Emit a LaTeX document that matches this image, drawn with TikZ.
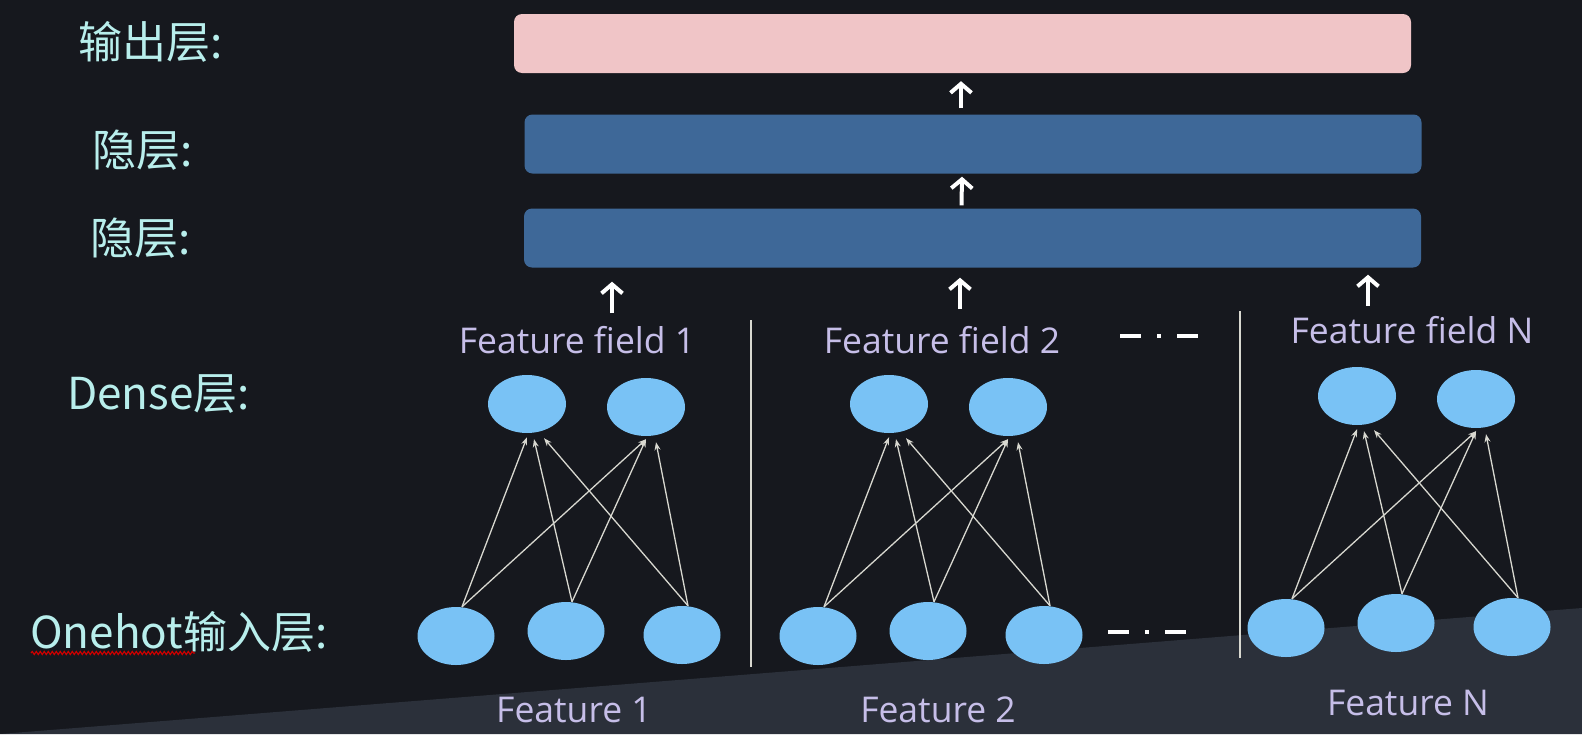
\documentclass[tikz,border=0pt]{standalone}
\usepackage{fontspec}
\setmainfont{Noto Sans CJK SC}
\newfontfamily\latinsans{Open Sans}
\usetikzlibrary{arrows.meta,decorations.pathmorphing,calc,shapes.geometric}
\definecolor{bg}{HTML}{16181E}
\definecolor{wedge}{HTML}{2B303A}
\definecolor{lbl}{HTML}{B8EEEC}
\definecolor{lav}{HTML}{C6BEE8}
\definecolor{cir}{HTML}{79C2F5}
\definecolor{hid}{HTML}{3E6898}
\definecolor{outc}{HTML}{F0C5C7}
\definecolor{thin}{HTML}{D8D8D0}
\begin{document}
\begin{tikzpicture}[x=1pt,y=-1pt,
  layerlbl/.style={text=lbl,font=\fontsize{44}{48}\selectfont,anchor=west,inner sep=0},
  fieldlbl/.style={text=lav,font=\latinsans\fontsize{35.5}{38}\selectfont,inner sep=0},
  band/.style={rounded corners=8,minimum width=897,minimum height=59,inner sep=0},
  neuron/.style={ellipse,fill=cir,minimum width=77,minimum height=58,inner sep=0},
  dneuron/.style={ellipse,fill=cir,minimum width=78,minimum height=58,inner sep=0},
  conn/.style={draw=thin,line width=1.3,-{Stealth[length=8,width=6]}},
  bigarrow/.style={draw=white,line width=4,-{Straight Barb[length=9,width=21,line width=4]}},
  sep/.style={draw=thin,line width=1.5},
  dots/.style={draw=white,line width=4}
]
\useasboundingbox (0,0) rectangle (1582,734);
\fill[bg] (0,0) rectangle (1582,734);
\fill[wedge] (0,734) -- (1582,608) -- (1582,734) -- cycle;

% layer labels
\node[layerlbl] (lout) at (78,42) {输出层:};
\node[layerlbl] (lh1) at (92,150) {隐层:};
\node[layerlbl] (lh2) at (90,238) {隐层:};
\node[layerlbl] (ldense) at (67,394) {Dense层:};
\node[layerlbl] (lone) at (30,632) {Onehot输入层:};
\draw[red!80!black,line width=1.2,decorate,decoration={snake,amplitude=1.5,segment length=4}] (31,653) -- (195,653);

% bands
\node[band,fill=outc] (out) at (962.5,43.5) {};
\node[band,fill=hid] (h1) at (973,144) {};
\node[band,fill=hid] (h2) at (972.5,238) {};

% field labels
\node[fieldlbl] (ff1) at (577,340) {Feature field 1};
\node[fieldlbl] (ff2) at (942,340) {Feature field 2};
\node[fieldlbl] (ffn) at (1412,330) {Feature field N};
\node[fieldlbl] (f1) at (574,710) {Feature 1};
\node[fieldlbl] (f2) at (938,710) {Feature 2};
\node[fieldlbl] (fn) at (1408,703) {Feature N};

% big arrows
\draw[bigarrow] ([xshift=-12,yshift=6]h1.north) -- ([xshift=-1.5,yshift=-8]out.south);
\draw[bigarrow] ([xshift=-11,yshift=3]h2.north) -- ([xshift=-11,yshift=-3]h1.south);
\coordinate (a1) at (612,313);
\coordinate (a2) at (960,309);
\coordinate (a3) at (1368,306);
\draw[bigarrow] (a1) -- ([yshift=-14]a1 |- h2.south);
\draw[bigarrow] (a2) -- ([yshift=-10]a2 |- h2.south);
\draw[bigarrow] (a3) -- ([yshift=-7]a3 |- h2.south);

% separators
\coordinate (s1t) at (751,320); \coordinate (s1b) at (751,667);
\coordinate (s2t) at (1240,311); \coordinate (s2b) at (1240,658);
\draw[sep] (s1t) -- (s1b);
\draw[sep] (s2t) -- (s2b);

% dashes
\draw[dots] (1120,336) -- (1141,336) (1157,336) -- (1161,336) (1177,336) -- (1198,336);
\draw[dots] (1108,632) -- (1129,632) (1145,632) -- (1149,632) (1165,632) -- (1186,632);

% neurons
\foreach \g/\dx/\dy in {1/0/0, 2/362/0, 3/830/-8}{
  \node[dneuron] (d\g a) at (527+\dx,404+\dy) {};
  \node[dneuron] (d\g b) at (646+\dx,407+\dy) {};
  \node[neuron] (b\g a) at (456+\dx,636+\dy) {};
  \node[neuron] (b\g b) at (566+\dx,631+\dy) {};
  \node[neuron] (b\g c) at (682+\dx,635+\dy) {};
  \draw[conn] ([xshift=6]b\g a.north) -- ([xshift=0,yshift=-4]d\g a.south);
  \draw[conn] ([xshift=6]b\g b.north) -- ([xshift=7,yshift=-6]d\g a.south);
  \draw[conn] ([xshift=6]b\g c.north) -- ([xshift=17,yshift=-5]d\g a.south);
  \draw[conn] ([xshift=6]b\g a.north) -- ([xshift=0,yshift=-3]d\g b.south);
  \draw[conn] ([xshift=6]b\g b.north) -- ([xshift=0,yshift=-3]d\g b.south);
  \draw[conn] ([xshift=6]b\g c.north) -- ([xshift=10,yshift=-6]d\g b.south);
}
\end{tikzpicture}
\end{document}
